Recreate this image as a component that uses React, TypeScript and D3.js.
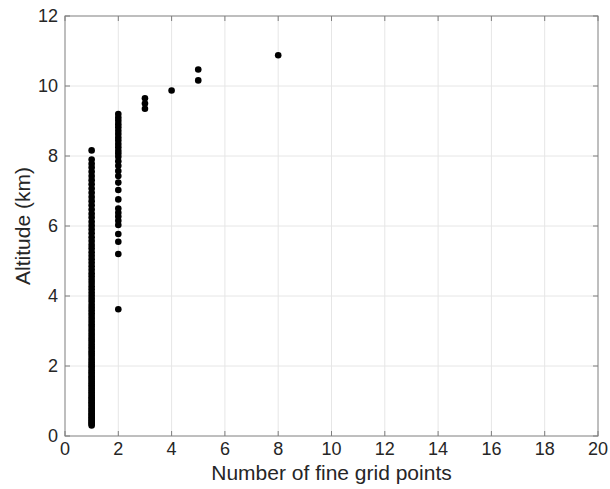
import * as d3 from "d3";

// altitudes (km) for each count of fine grid points
const altOne = [
  8.16, 7.9, 7.78, 7.67, 7.55, 7.43, 7.31, 7.19, 7.07, 6.95, 6.83, 6.71, 6.59, 6.47, 6.35, 6.24,
  6.12, 6.01, 5.9, 5.79, 5.68, 5.57, 5.46, 5.36, 5.25, 5.15, 5.05, 4.95, 4.85, 4.75, 4.65, 4.56,
  4.46, 4.37, 4.28, 4.19, 4.1, 4.01, 3.92, 3.84, 3.75, 3.67, 3.59, 3.51, 3.43, 3.35, 3.27, 3.19,
  3.12, 3.04, 2.97, 2.9, 2.83, 2.76, 2.69, 2.62, 2.55, 2.49, 2.42, 2.36, 2.3, 2.23, 2.17, 2.11,
  2.05, 1.99, 1.94, 1.88, 1.82, 1.77, 1.71, 1.66, 1.61, 1.55, 1.5, 1.45, 1.4, 1.35, 1.3, 1.25,
  1.2, 1.15, 1.1, 1.06, 1.01, 0.96, 0.92, 0.87, 0.83, 0.78, 0.74, 0.7, 0.65, 0.61, 0.57, 0.53,
  0.49, 0.45, 0.41, 0.37, 0.34, 0.3,
];
const altTwo = [
  9.2, 9.1, 9.01, 8.91, 8.82, 8.72, 8.63, 8.53, 8.44, 8.34, 8.25, 8.15, 8.07, 7.98, 7.85, 7.72,
  7.57, 7.43, 7.24, 7.03, 6.76, 6.5, 6.38, 6.27, 6.15, 6.03, 5.77, 5.55, 5.2, 3.62,
];
const altThree = [9.65, 9.5, 9.35];
const altFour = [9.87];
const altFive = [10.47, 10.16];
const altEight = [10.88];

const groups: [number, number[]][] = [
  [1, altOne],
  [2, altTwo],
  [3, altThree],
  [4, altFour],
  [5, altFive],
  [8, altEight],
];

const xTicks = [0, 2, 4, 6, 8, 10, 12, 14, 16, 18, 20];
const yTicks = [0, 2, 4, 6, 8, 10, 12];

const W = 610;
const H = 489;
const M = { left: 65, right: 598, top: 16, bottom: 436 };
const FONT = "'Liberation Sans', Arial, Helvetica, sans-serif";
const TEXT = "#262626";
const AXIS = "#7f7f7f";
const GRID = "#e6e6e6";
const TICK = 5;

export default function App() {
  const x = d3.scaleLinear().domain([0, 20]).range([M.left, M.right]);
  const y = d3.scaleLinear().domain([0, 12]).range([M.bottom, M.top]);

  const points = groups.flatMap(([n, alts]) => alts.map((a) => ({ n, a })));

  return (
    <svg
      width={W}
      height={H}
      style={{ position: "absolute", left: 0, top: 0, background: "#fff" }}
      fontFamily={FONT}
    >
      {/* grid */}
      {xTicks.slice(1, -1).map((t) => (
        <line key={"gx" + t} x1={x(t)} x2={x(t)} y1={M.top} y2={M.bottom} stroke={GRID} />
      ))}
      {yTicks.slice(1, -1).map((t) => (
        <line key={"gy" + t} x1={M.left} x2={M.right} y1={y(t)} y2={y(t)} stroke={GRID} />
      ))}

      {/* ticks, inward on all four sides */}
      {xTicks.map((t) => (
        <g key={"tx" + t} stroke={AXIS}>
          <line x1={x(t)} x2={x(t)} y1={M.bottom} y2={M.bottom - TICK} />
          <line x1={x(t)} x2={x(t)} y1={M.top} y2={M.top + TICK} />
        </g>
      ))}
      {yTicks.map((t) => (
        <g key={"ty" + t} stroke={AXIS}>
          <line x1={M.left} x2={M.left + TICK} y1={y(t)} y2={y(t)} />
          <line x1={M.right} x2={M.right - TICK} y1={y(t)} y2={y(t)} />
        </g>
      ))}

      {/* points */}
      {points.map((p, i) => (
        <circle key={i} cx={x(p.n)} cy={y(p.a)} r={3.3} fill="#000" />
      ))}

      {/* box */}
      <rect
        x={M.left}
        y={M.top}
        width={M.right - M.left}
        height={M.bottom - M.top}
        fill="none"
        stroke={AXIS}
      />

      {/* tick labels */}
      {xTicks.map((t) => (
        <text key={"lx" + t} x={x(t)} y={M.bottom + 19} textAnchor="middle" fontSize={18} fill={TEXT}>
          {t}
        </text>
      ))}
      {yTicks.map((t) => (
        <text
          key={"ly" + t}
          x={M.left - 7}
          y={y(t)}
          dy="0.35em"
          textAnchor="end"
          fontSize={18}
          fill={TEXT}
        >
          {t}
        </text>
      ))}

      {/* axis labels */}
      <text x={(M.left + M.right) / 2} y={480} textAnchor="middle" fontSize={21} fill={TEXT}>
        Number of fine grid points
      </text>
      <text
        transform={`translate(30, ${(M.top + M.bottom) / 2}) rotate(-90)`}
        textAnchor="middle"
        fontSize={21}
        fill={TEXT}
      >
        Altitude (km)
      </text>
    </svg>
  );
}
